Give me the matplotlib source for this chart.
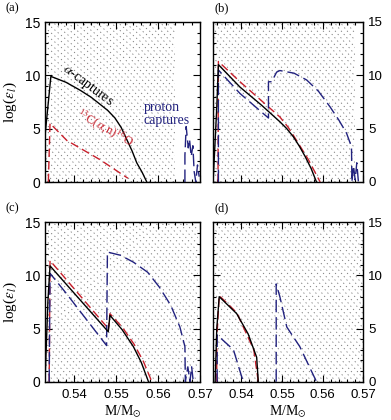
import matplotlib
matplotlib.use('Agg')
import matplotlib.pyplot as plt
from matplotlib.patches import Rectangle
from matplotlib.ticker import MultipleLocator
import numpy as np

plt.rcParams['mathtext.fontset'] = 'stix'

# ---------------- data ----------------
xlim = (0.533, 0.570)
ylim = (0, 15)
xticks = [0.54, 0.55, 0.56, 0.57]
xtick_labels = ['0.54', '0.55', '0.56', '0.57']
yticks = [0, 5, 10, 15]
panel_labels = ['(a)', '(b)', '(c)', '(d)']

# panel (a)
a_alpha_x = [0.5330, 0.5344, 0.5380, 0.5414, 0.5440, 0.5461, 0.5480, 0.5497, 0.5512,
             0.5525, 0.5538, 0.5549, 0.5562, 0.5573]
a_alpha_y = [4.3, 9.9, 9.35, 8.6, 7.95, 7.3, 6.7, 6.0, 5.1,
             4.0, 2.9, 1.8, 0.9, 0.0]
a_c13_x = [0.5338, 0.5342, 0.5382, 0.5461, 0.5528]
a_c13_y = [0.0, 5.5, 3.9, 2.1, 0.35]
a_p_x = [0.5664, 0.5664, 0.5667, 0.5672, 0.5675, 0.5679, 0.5683, 0.5686, 0.5690, 0.5694, 0.5698]
a_p_y = [0.0, 2.5, 5.2, 3.2, 4.0, 2.4, 3.4, 1.0, 0.0, 1.6, 0.5]
a_hatch_end = 0.5640

# panel (b)
b_alpha_x = [0.5331, 0.5340, 0.5344, 0.5397, 0.5450, 0.5495, 0.5512, 0.5528, 0.5543,
             0.5557, 0.5572, 0.5585]
b_alpha_y = [0.0, 7.0, 11.0, 8.9, 7.2, 5.65, 5.0, 4.25, 3.35, 2.4, 1.25, 0.0]
b_c13_x = [0.5343, 0.5344, 0.5397, 0.5495, 0.5516, 0.5536, 0.5565, 0.5594]
b_c13_y = [0.0, 11.3, 9.4, 6.1, 5.1, 3.9, 2.1, 0.0]
b_p_x = [0.5344, 0.5344, 0.5397, 0.5467, 0.5467, 0.5475, 0.5487, 0.5495, 0.5530, 0.5561,
         0.5590, 0.5618, 0.5640, 0.5659, 0.5671, 0.5672, 0.5676, 0.5680, 0.5684, 0.5688]
b_p_y = [0.0, 10.5, 8.3, 6.0, 9.4, 9.4, 10.3, 10.45, 10.2, 9.56,
         8.5, 7.06, 5.8, 4.56, 3.3, 0.0, 1.5, 0.2, 1.8, 0.0]
b_hatch_end = 0.5680

# panel (c)
c_alpha_x = [0.5330, 0.5337, 0.5342, 0.5481, 0.5485, 0.5514, 0.5541, 0.5560, 0.5577]
c_alpha_y = [0.0, 7.6, 10.9, 4.7, 6.25, 4.9, 3.3, 1.8, 0.0]
c_c13_x = [0.5340, 0.5342, 0.5481, 0.5481, 0.5485, 0.5515, 0.5543, 0.5565, 0.5585]
c_c13_y = [0.0, 11.4, 5.0, 4.8, 6.4, 5.1, 3.5, 1.9, 0.0]
c_p_x = [0.5340, 0.5342, 0.5381, 0.5477, 0.5479, 0.5510, 0.5541, 0.5575, 0.5603, 0.5630,
         0.5652, 0.5664, 0.5665, 0.5671, 0.5676, 0.5680, 0.5684]
c_p_y = [0.0, 10.2, 8.3, 3.4, 12.2, 11.9, 11.25, 10.3, 8.9, 7.2,
         5.15, 3.3, 0.0, 1.4, 0.0, 1.4, 0.0]
c_hatch_end = 0.5695

# panel (d)
d_alpha_x = [0.5336, 0.5340, 0.5346, 0.5389, 0.5417, 0.5438, 0.5442]
d_alpha_y = [0.0, 5.0, 8.0, 6.4, 4.5, 2.3, 0.0]
d_c13_x = [0.5340, 0.5340, 0.5346, 0.5389, 0.5431, 0.5442]
d_c13_y = [0.0, 4.0, 8.1, 6.5, 3.0, 0.0]
d_p1_x = [0.5341, 0.5341, 0.5381, 0.5405]
d_p1_y = [0.0, 4.4, 3.0, 0.0]
d_p2_x = [0.5486, 0.5486, 0.5495, 0.5512, 0.5544, 0.5585]
d_p2_y = [0.0, 9.2, 8.0, 5.15, 3.3, 0.0]
d_hatch_end = 0.5700

# ---------------- styling ----------------
BLACK = '#000000'
RED = '#c8202c'
NAVY = '#22227f'
SERIF = 'Liberation Serif'
SANS = 'Liberation Sans'

W, H = 391, 420
fig = plt.figure(figsize=(W / 100, H / 100), dpi=100)
boxes = [(45, 22, 200, 182), (212.7, 22, 363.3, 182),
         (45, 222.3, 200, 381.7), (212.7, 222.3, 363.3, 381.7)]


def add_hatch(ax, x_end, box):
    l, t, r, b = box
    wpx, hpx = r - l, b - t
    clip = Rectangle((xlim[0], ylim[0]), x_end - xlim[0], ylim[1] - ylim[0],
                     transform=ax.transData, facecolor='none', edgecolor='none')
    ax.add_patch(clip)
    step = 6.0
    c = -hpx
    while c < wpx:
        x0, y0 = c / wpx, 0.0
        x1, y1 = (c + hpx) / wpx, 1.0
        ln, = ax.plot([x0, x1], [y0, y1], transform=ax.transAxes, color='#777777',
                      lw=0.9, linestyle=(0, (0.7, 3.0)), dash_capstyle='butt', zorder=0.5)
        ln.set_clip_path(clip)
        c += step


axes = []
for i, box in enumerate(boxes):
    l, t, r, b = box
    hpx = b - t
    ax = fig.add_axes([l / W, 1 - b / H, (r - l) / W, hpx / H])
    ax.set_xlim(*xlim)
    ax.set_ylim(*ylim)
    ax.xaxis.set_major_locator(MultipleLocator(0.01))
    ax.xaxis.set_minor_locator(MultipleLocator(0.002))
    ax.set_yticks(yticks)
    ax.yaxis.set_minor_locator(MultipleLocator(1))
    ax.tick_params(which='both', direction='in', top=True, right=True, width=0.8)
    ax.tick_params(which='major', length=5)
    ax.tick_params(which='minor', length=2.5)
    ax.tick_params(axis='x', pad=5.5)
    for s in ax.spines.values():
        s.set_linewidth(1.0)
    if i < 2:
        ax.tick_params(labelbottom=False)
    else:
        ax.set_xticks(xticks)
        ax.set_xticklabels(xtick_labels, fontfamily=SANS, fontsize=9.5)
        ax.set_xlabel(r'M/M$_{\odot}$', fontfamily=SERIF, fontsize=10, va='top')
        ax.xaxis.set_label_coords(0.5, -(403.5 - b) / hpx)
    if i % 2 == 0:
        ax.set_yticklabels([str(v) for v in yticks], fontfamily=SANS, fontsize=10)
        ax.set_ylabel(r'log($\epsilon_l$)', fontfamily=SERIF, fontsize=11, labelpad=4)
    else:
        ax.tick_params(labelleft=False, labelright=True)
        ax.set_yticklabels([str(v) for v in yticks], fontfamily=SANS, fontsize=9.5)
    fig.text((l - 40 if i % 2 == 0 else l + 2) / W, 1 - (t - 14) / H, panel_labels[i],
             fontfamily=SERIF, fontsize=9, ha='left', va='center')
    axes.append(ax)

axA, axB, axC, axD = axes
red_kw = dict(color=RED, lw=1.0, dashes=(6, 3))
blue_kw = dict(color=NAVY, lw=1.0, dashes=(9, 3.5))
blk_kw = dict(color=BLACK, lw=1.0)

add_hatch(axA, a_hatch_end, boxes[0])
add_hatch(axB, b_hatch_end, boxes[1])
add_hatch(axC, c_hatch_end, boxes[2])
add_hatch(axD, d_hatch_end, boxes[3])

axA.plot(a_c13_x, a_c13_y, **red_kw)
axA.plot(a_p_x, a_p_y, **blue_kw)
axA.plot(a_alpha_x, a_alpha_y, **blk_kw)
axA.text(0.5433, 9.0, r'$\alpha$-captures', rotation=-37, fontfamily=SERIF,
         fontsize=10, ha='center', va='center', color=BLACK)
axA.text(0.5472, 5.0, r'$^{13}$C($\alpha$,n)$^{16}$O', rotation=-29, fontfamily=SERIF,
         fontsize=9, ha='center', va='center', color=RED)
axA.text(0.5566, 6.35, 'proton\ncaptures', fontfamily=SERIF, fontsize=10,
         ha='left', va='center', color=NAVY, linespacing=1.0)

axB.plot(b_c13_x, b_c13_y, **red_kw)
axB.plot(b_p_x, b_p_y, **blue_kw)
axB.plot(b_alpha_x, b_alpha_y, **blk_kw)

axC.plot(c_c13_x, c_c13_y, **red_kw)
axC.plot(c_p_x, c_p_y, **blue_kw)
axC.plot(c_alpha_x, c_alpha_y, **blk_kw)

axD.plot(d_c13_x, d_c13_y, **red_kw)
axD.plot(d_p1_x, d_p1_y, **blue_kw)
axD.plot(d_p2_x, d_p2_y, **blue_kw)
axD.plot(d_alpha_x, d_alpha_y, **blk_kw)

fig.savefig('out.png', dpi=100)
